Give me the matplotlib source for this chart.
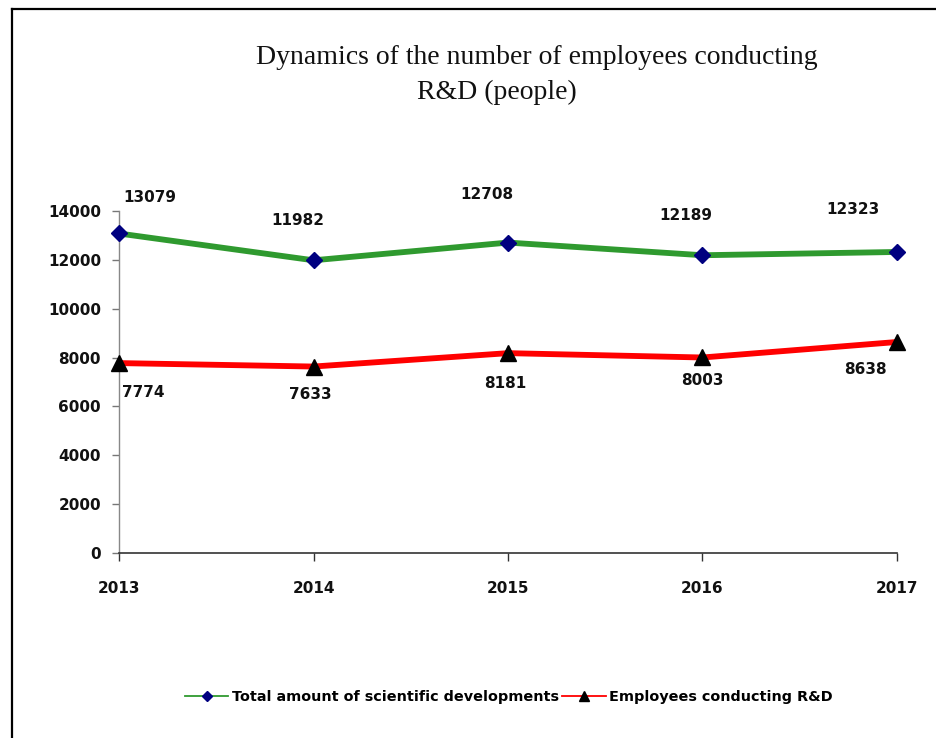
import matplotlib
matplotlib.use("Agg")
import matplotlib.pyplot as plt
from matplotlib.lines import Line2D

years = ["2013", "2014", "2015", "2016", "2017"]
total_dev = [13079, 11982, 12708, 12189, 12323]
employees = [7774, 7633, 8181, 8003, 8638]
yticks = [0, 2000, 4000, 6000, 8000, 10000, 12000, 14000]

# label offsets (pixels) for the data labels
off_total = [(31, 36), (-16, 40), (-21, 48), (-17, 40), (-44, 42)]
off_emp = [(24, -29), (-3, -28), (-3, -30), (0, -23), (-32, -28)]

W, H = 937, 738
fig = plt.figure(figsize=(W / 100, H / 100), dpi=100)

# frame (left and top borders)
fig.add_artist(Line2D([12 / W, 12 / W], [0, 1 - 9 / H], transform=fig.transFigure,
                      color="black", lw=1.6))
fig.add_artist(Line2D([12 / W, 1], [1 - 9 / H, 1 - 9 / H], transform=fig.transFigure,
                      color="black", lw=1.6))

ax = fig.add_axes([119 / W, 1 - 553 / H, (897 - 119) / W, (553 - 211) / H])
x = list(range(len(years)))

green = "#2F9A2F"
ax.plot(x, total_dev, color=green, lw=4.2, marker="D", markersize=8.5,
        markerfacecolor="#000080", markeredgecolor="#000080", zorder=3, clip_on=False,
        solid_capstyle="butt")
ax.plot(x, employees, color="#FF0000", lw=4.2, marker="^", markersize=11,
        markerfacecolor="black", markeredgecolor="black", zorder=3, clip_on=False,
        solid_capstyle="butt")

lab_font = dict(fontsize=11, fontweight="bold", family="DejaVu Sans", color="#111111")
for i, v in enumerate(total_dev):
    ax.annotate(str(v), (x[i], v), xytext=(off_total[i][0] * 0.72, off_total[i][1] * 0.72),
                textcoords="offset points", ha="center", va="center", **lab_font)
for i, v in enumerate(employees):
    ax.annotate(str(v), (x[i], v), xytext=(off_emp[i][0] * 0.72, off_emp[i][1] * 0.72),
                textcoords="offset points", ha="center", va="center", **lab_font)

ax.set_xlim(0, len(years) - 1)
ax.set_ylim(0, 14000)
ax.set_xticks(x)
ax.set_xticklabels(years)
ax.set_yticks(yticks)
ax.set_yticklabels([str(t) for t in yticks])
for lab in ax.get_xticklabels() + ax.get_yticklabels():
    lab.set_fontsize(11)
    lab.set_fontweight("bold")
    lab.set_family("DejaVu Sans")
    lab.set_color("#111111")
ax.tick_params(axis="y", length=5, width=1, color="#777777", pad=8)
ax.tick_params(axis="x", length=6, width=1, color="#333333", pad=14)
ax.spines["top"].set_visible(False)
ax.spines["right"].set_visible(False)
ax.spines["left"].set_color("#888888")
ax.spines["bottom"].set_color("#333333")
ax.spines["left"].set_linewidth(1)
ax.spines["bottom"].set_linewidth(1.2)
ax.set_facecolor("none")

# title
tfont = dict(family="Liberation Serif", fontsize=20, color="#111111", ha="center", va="center")
fig.text(537 / W, 1 - 57 / H, "Dynamics of the number of employees conducting", **tfont)
fig.text(497 / W, 1 - 92 / H, "R&D (people)", **tfont)

# legend
handles = [
    Line2D([0], [0], color=green, lw=1.3, marker="D", markersize=5,
           markerfacecolor="#000080", markeredgecolor="#000080"),
    Line2D([0], [0], color="#FF0000", lw=1.3, marker="^", markersize=7,
           markerfacecolor="black", markeredgecolor="black"),
]
fig.legend(handles, ["Total amount of scientific developments", "Employees conducting R&D"],
           loc="center", bbox_to_anchor=(509 / W, 1 - 697 / H), ncol=2, frameon=False,
           prop=dict(family="DejaVu Sans", weight="bold", size=10.4), handlelength=3.0,
           handletextpad=0.25, columnspacing=0.25)

fig.savefig("out.png", dpi=100, facecolor="white")
